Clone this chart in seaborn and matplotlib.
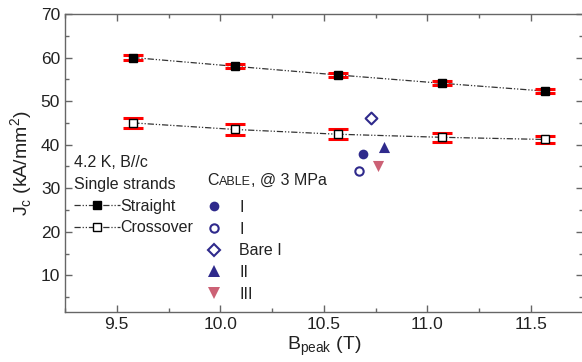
import matplotlib
matplotlib.use("Agg")
import matplotlib.pyplot as plt
import seaborn as sns
import pandas as pd
from matplotlib.lines import Line2D
from matplotlib.ticker import MultipleLocator

# ---- data ----
b_strand = [9.58, 10.07, 10.57, 11.07, 11.57]
jc_straight = [60.0, 58.0, 56.0, 54.1, 52.3]
err_straight = [0.5, 0.5, 0.5, 0.5, 0.5]
jc_cross = [45.0, 43.5, 42.4, 41.7, 41.2]
err_cross = [1.2, 1.2, 1.2, 1.1, 0.9]

cable_labels = ["I", "I", "Bare I", "II", "III"]
cable_b = [10.69, 10.67, 10.73, 10.79, 10.76]
cable_jc = [37.8, 34.0, 46.2, 39.5, 35.0]
cable_markers = ["o", "o", "D", "^", "v"]
cable_filled = [True, False, False, True, True]
navy = "#2f2a8c"
pink = "#cc6175"
cable_colors = [navy, navy, navy, navy, pink]
cable_msize = [7, 6, 6, 8, 8]

sns.set_style("ticks")
plt.rcParams["font.family"] = ["Liberation Sans", "DejaVu Sans"]
plt.rcParams["mathtext.fontset"] = "custom"
plt.rcParams["mathtext.rm"] = "Liberation Sans"

fig = plt.figure(figsize=(5.82, 3.62), dpi=100)
ax = fig.add_axes([65 / 582, 1 - 312 / 362, 1 - 65 / 582 + 0.001, (312 - 14) / 362])

dash = (0, (5, 1.5, 1, 1.5, 1, 1.5))
line_col = "#333333"
text_col = "#222222"

# error bars
ax.errorbar(b_strand, jc_straight, yerr=err_straight, fmt="none", ecolor="red",
            elinewidth=1.5, capsize=7, capthick=2.2, zorder=2)
ax.errorbar(b_strand, jc_cross, yerr=err_cross, fmt="none", ecolor="red",
            elinewidth=1.5, capsize=7, capthick=2.2, zorder=2)

df_s = pd.DataFrame({"B": b_strand, "Jc": jc_straight})
df_c = pd.DataFrame({"B": b_strand, "Jc": jc_cross})
sns.lineplot(data=df_s, x="B", y="Jc", ax=ax, color=line_col, lw=0.9,
             linestyle=dash, zorder=1)
sns.lineplot(data=df_c, x="B", y="Jc", ax=ax, color=line_col, lw=0.9,
             linestyle=dash, zorder=1)
ax.plot(b_strand, jc_straight, ls="none", marker="s", ms=5.5, mfc="black",
        mec="black", zorder=3)
ax.plot(b_strand, jc_cross, ls="none", marker="s", ms=5.5, mfc="white",
        mec="black", mew=1.0, zorder=3)

cable_handles = []
for b, j, m, f, c, s in zip(cable_b, cable_jc, cable_markers, cable_filled,
                            cable_colors, cable_msize):
    sns.scatterplot(x=[b], y=[j], ax=ax, marker=m, s=s ** 2,
                    color=c if f else "white", edgecolor=c,
                    linewidth=0 if f else 1.5, zorder=4)
    cable_handles.append(Line2D([], [], ls="none", marker=m, ms=s,
                                mfc=c if f else "white", mec=c,
                                mew=0 if f else 1.5))

ax.set_xlim(9.25, 11.75)
ax.set_ylim(1.6, 70)
ax.xaxis.set_major_locator(MultipleLocator(0.5))
ax.xaxis.set_minor_locator(MultipleLocator(0.25))
ax.yaxis.set_major_locator(MultipleLocator(10))
ax.yaxis.set_minor_locator(MultipleLocator(5))
ax.set_yticks([10, 20, 30, 40, 50, 60, 70])
ax.xaxis.set_major_formatter(matplotlib.ticker.FormatStrFormatter("%.1f"))

spine_col = "#666666"
for sp in ax.spines.values():
    sp.set_visible(True)
    sp.set_color(spine_col)
    sp.set_linewidth(1.0)
ax.tick_params(which="both", direction="in", top=True, right=True,
               color=spine_col, labelsize=12.5, labelcolor=text_col)
ax.tick_params(which="major", length=5, width=1)
ax.tick_params(which="minor", length=3, width=1)

ax.set_xlabel(r"B$_\mathregular{peak}$ (T)", fontsize=14, labelpad=2, color=text_col)
ax.set_ylabel(r"J$_\mathregular{c}$ (kA/mm$^\mathregular{2}$)", fontsize=14,
              labelpad=4, color=text_col)

# legend 1
h_str = Line2D([], [], color=line_col, lw=0.9, ls=dash, marker="s", ms=5.5,
               mfc="black", mec="black")
h_cro = Line2D([], [], color=line_col, lw=0.9, ls=dash, marker="s", ms=5.5,
               mfc="white", mec="black")
leg1 = ax.legend([h_str, h_cro], ["Straight", "Crossover"],
                 title="4.2 K, B//c\nSingle strands", title_fontsize=11.5,
                 fontsize=11.5, loc="upper left", bbox_to_anchor=(-0.005, 0.565),
                 frameon=False, handlelength=2.9, handletextpad=0.05,
                 labelspacing=0.42, borderpad=0.2, alignment="left")
leg1.get_title().set_linespacing(1.6)
leg1.get_title().set_color(text_col)
for t in leg1.get_texts():
    t.set_color(text_col)
ax.add_artist(leg1)

# legend 2
leg2 = ax.legend(cable_handles, cable_labels, title=" ", title_fontsize=8,
                 fontsize=11.5, loc="upper left", bbox_to_anchor=(0.247, 0.47),
                 frameon=False, handlelength=1.2, handletextpad=1.0,
                 labelspacing=0.42, borderpad=0.2)
for t in leg2.get_texts():
    t.set_color(text_col)
t1 = ax.text(0.275, 0.467, "C", transform=ax.transAxes, fontsize=11.5,
             va="top", ha="left", color=text_col)
fig.canvas.draw()
t2 = ax.annotate("ABLE", xy=(1, 0), xycoords=t1, fontsize=9, va="bottom",
                 ha="left", color=text_col)
ax.annotate(", @ 3 MPa", xy=(1, 0), xycoords=t2, fontsize=11.5, va="bottom",
            ha="left", color=text_col)

fig.savefig("out.png", dpi=100)
